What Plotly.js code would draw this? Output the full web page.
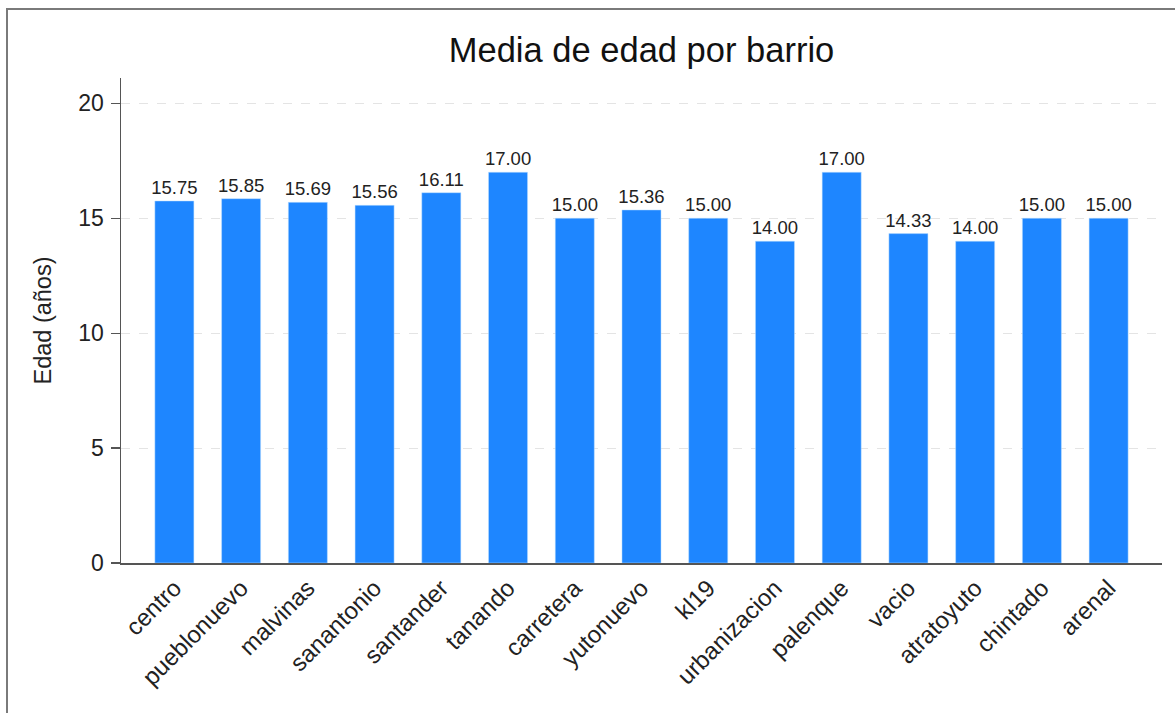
<!DOCTYPE html>
<html>
<head>
<meta charset="utf-8">
<script src="https://cdn.plot.ly/plotly-3.0.1.min.js"></script>
<style>
  html, body { margin: 0; padding: 0; background: #fff; }
  #chart { width: 1175px; height: 713px; position: absolute; left: 0; top: 0; }
  #frame { position: absolute; left: 6px; top: 8px; width: 1200px; height: 760px;
           border-left: 2px solid #7a7a7a; border-top: 2px solid #7a7a7a; pointer-events: none; }
</style>
</head>
<body>
<div id="chart"></div>
<div id="frame"></div>
<script>
const barrios = ["centro", "pueblonuevo", "malvinas", "sanantonio", "santander", "tanando",
  "carretera", "yutonuevo", "kl19", "urbanizacion", "palenque", "vacio", "atratoyuto",
  "chintado", "arenal"];
const edadMedia = [15.75, 15.85, 15.69, 15.56, 16.11, 17.00, 15.00, 15.36, 15.00, 14.00,
  17.00, 14.33, 14.00, 15.00, 15.00];
const yTicks = [0, 5, 10, 15, 20];

const font = "Liberation Sans, Arial, Helvetica, sans-serif";

const trace = {
  type: "bar",
  x: barrios,
  y: edadMedia,
  width: 0.585,
  marker: { color: "#1e86ff", line: { color: "#bfe0ff", width: 0.5 } },
  text: edadMedia.map(v => v.toFixed(2)),
  textposition: "outside",
  constraintext: "none",
  textfont: { family: font, size: 18.5, color: "#222" },
  cliponaxis: false,
  hoverinfo: "x+y"
};

const layout = {
  width: 1175,
  height: 713,
  margin: { l: 121, r: 13, t: 78, b: 150 },
  paper_bgcolor: "#ffffff",
  plot_bgcolor: "#ffffff",
  showlegend: false,
  title: {
    text: "Media de edad por barrio",
    font: { family: font, size: 34.5, color: "#111" },
    x: 0.5, xref: "paper", xanchor: "center",
    y: 1 - 50 / 713, yref: "container", yanchor: "middle"
  },
  xaxis: {
    type: "category",
    range: [-0.8, 14.8],
    tickangle: -45,
    tickfont: { family: font, size: 24, color: "#222" },
    showline: true, linecolor: "#555", linewidth: 1.5,
    ticks: "", showgrid: false, zeroline: false,
    fixedrange: true
  },
  yaxis: {
    range: [0, 21.1],
    tickvals: yTicks,
    ticktext: yTicks.map(String),
    tickfont: { family: font, size: 23, color: "#222" },
    ticks: "outside", ticklen: 9, tickwidth: 1.2, tickcolor: "#555",
    ticklabelstandoff: 2,
    showline: true, linecolor: "#555", linewidth: 1.5,
    showgrid: true, gridcolor: "#e4e4e4", griddash: "dash", gridwidth: 1,
    zeroline: false,
    title: { text: "Edad (años)", font: { family: font, size: 23.5, color: "#222" }, standoff: 20 },
    fixedrange: true
  },
  bargap: 0.4
};

Plotly.newPlot("chart", [trace], layout, { displayModeBar: false, staticPlot: true });
</script>
</body>
</html>
